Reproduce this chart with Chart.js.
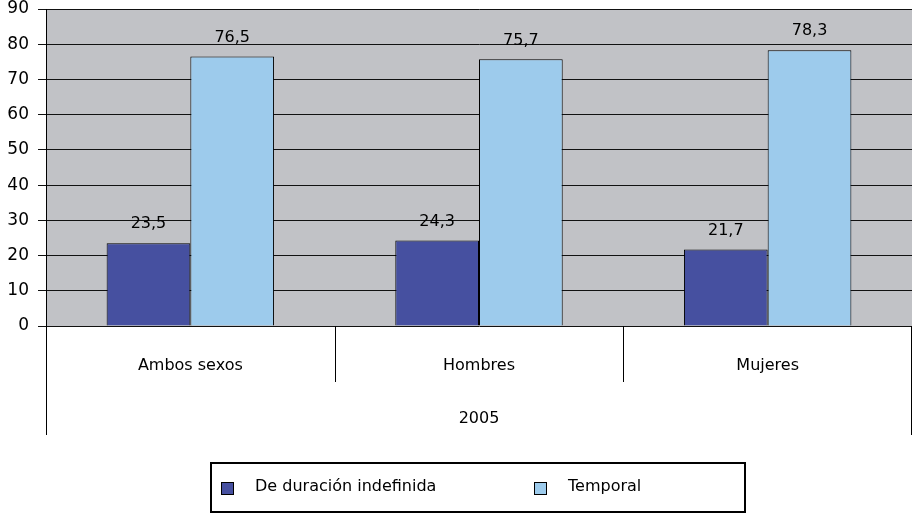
<!DOCTYPE html>
<html>
<head>
    <meta charset="UTF-8">
    <title>Contrato</title>
    <script src="https://cdn.jsdelivr.net/npm/chart.js"></script>
    <style>
        html, body {
            margin: 0;
            padding: 0;
            background: #fff;
        }

        #wrap {
            position: relative;
            width: 913px;
            height: 514px;
        }

        .legend {
            position: absolute;
            left: 210px;
            top: 462px;
            width: 532px;
            height: 47px;
            border: 2px solid #000;
            box-sizing: content-box;
            font-family: "DejaVu Sans", sans-serif;
            font-size: 16px;
            color: #000;
        }

        .legend span.item {
            position: absolute;
            top: 12px;
        }

        .legend i {
            display: inline-block;
            width: 11px;
            height: 11px;
            border: 1px solid #000;
            position: absolute;
            top: 6px;
        }
    </style>
</head>
<body>
<div id="wrap">
    <canvas id="myChart" width="913" height="514"></canvas>
    <div class="legend" id="legend"></div>
</div>
<script>
    const categories = ['Ambos sexos', 'Hombres', 'Mujeres'];
    const groupLabel = '2005';
    const seriesNames = ['De duración indefinida', 'Temporal'];
    const indefinida = [23.5, 24.3, 21.7];
    const temporal = [76.5, 75.7, 78.3];
    const colors = ['#4650a0', '#9dcbec'];

    const fontFamily = '"DejaVu Sans", sans-serif';

    // legend html
    const legendPos = [{box: 9, text: 43}, {box: 322, text: 356}];
    document.getElementById('legend').innerHTML = seriesNames.map((name, i) =>
        '<span class="item" style="left:' + legendPos[i].box + 'px"><i style="background:' + colors[i] + '"></i></span>' +
        '<span class="item" style="left:' + legendPos[i].text + 'px">' + name + '</span>'
    ).join('');

    const fmt = v => v.toFixed(1).replace('.', ',');

    // valores encima de las barras + etiquetas del eje x
    const extras = {
        id: 'extras',
        afterDatasetsDraw(chart) {
            const ctx = chart.ctx;
            const area = chart.chartArea;
            const x = chart.scales.x;
            ctx.save();
            ctx.fillStyle = '#000';
            ctx.font = '16px ' + fontFamily;
            ctx.textAlign = 'center';
            ctx.textBaseline = 'bottom';
            chart.data.datasets.forEach((ds, di) => {
                chart.getDatasetMeta(di).data.forEach((bar, i) => {
                    ctx.fillText(fmt(ds.data[i]), bar.x, bar.y - 11);
                });
            });

            // lineas del eje de categorias
            const step = (area.right - area.left) / categories.length;
            ctx.strokeStyle = '#000';
            ctx.lineWidth = 1;
            ctx.beginPath();
            for (let i = 1; i < categories.length; i++) {
                const lx = Math.round(area.left + step * i) + 0.5;
                ctx.moveTo(lx, area.bottom);
                ctx.lineTo(lx, area.bottom + 56);
            }
            ctx.moveTo(area.left + 0.5, area.bottom);
            ctx.lineTo(area.left + 0.5, area.bottom + 109);
            ctx.moveTo(area.right - 0.5, area.bottom);
            ctx.lineTo(area.right - 0.5, area.bottom + 109);
            ctx.stroke();

            ctx.textBaseline = 'middle';
            categories.forEach((c, i) => {
                ctx.fillText(c, x.getPixelForValue(i), area.bottom + 40);
            });
            ctx.fillText(groupLabel, (area.left + area.right) / 2, area.bottom + 93);
            ctx.restore();
        }
    };

    const bg = {
        id: 'bg',
        beforeDraw(chart) {
            const a = chart.chartArea;
            chart.ctx.save();
            chart.ctx.fillStyle = '#c1c2c6';
            chart.ctx.fillRect(a.left, a.top, a.right - a.left, a.bottom - a.top);
            chart.ctx.restore();
        }
    };

    new Chart(document.getElementById('myChart').getContext('2d'), {
        type: 'bar',
        data: {
            labels: categories,
            datasets: [{
                label: seriesNames[0],
                data: indefinida,
                backgroundColor: colors[0],
                borderColor: '#000',
                borderWidth: 1
            }, {
                label: seriesNames[1],
                data: temporal,
                backgroundColor: colors[1],
                borderColor: '#000',
                borderWidth: 1
            }]
        },
        options: {
            responsive: false,
            animation: false,
            layout: {padding: {top: 0, right: 1, left: 0, bottom: 0}},
            datasets: {bar: {categoryPercentage: 0.58, barPercentage: 1}},
            plugins: {
                legend: {display: false},
                tooltip: {enabled: false}
            },
            scales: {
                x: {
                    ticks: {display: false},
                    grid: {display: false},
                    border: {display: false},
                    afterFit(s) { s.height = 188; }
                },
                y: {
                    min: 0,
                    max: 90,
                    ticks: {
                        stepSize: 10,
                        color: '#000',
                        padding: 9,
                        font: {family: fontFamily, size: 17}
                    },
                    grid: {
                        color: '#111',
                        lineWidth: 1,
                        tickLength: 8
                    },
                    border: {color: '#000'},
                    afterFit(s) {
                        s.width = 46;
                        s.paddingTop = 9;
                        s.paddingBottom = 0;
                    }
                }
            }
        },
        plugins: [bg, extras]
    });
</script>
</body>
</html>
